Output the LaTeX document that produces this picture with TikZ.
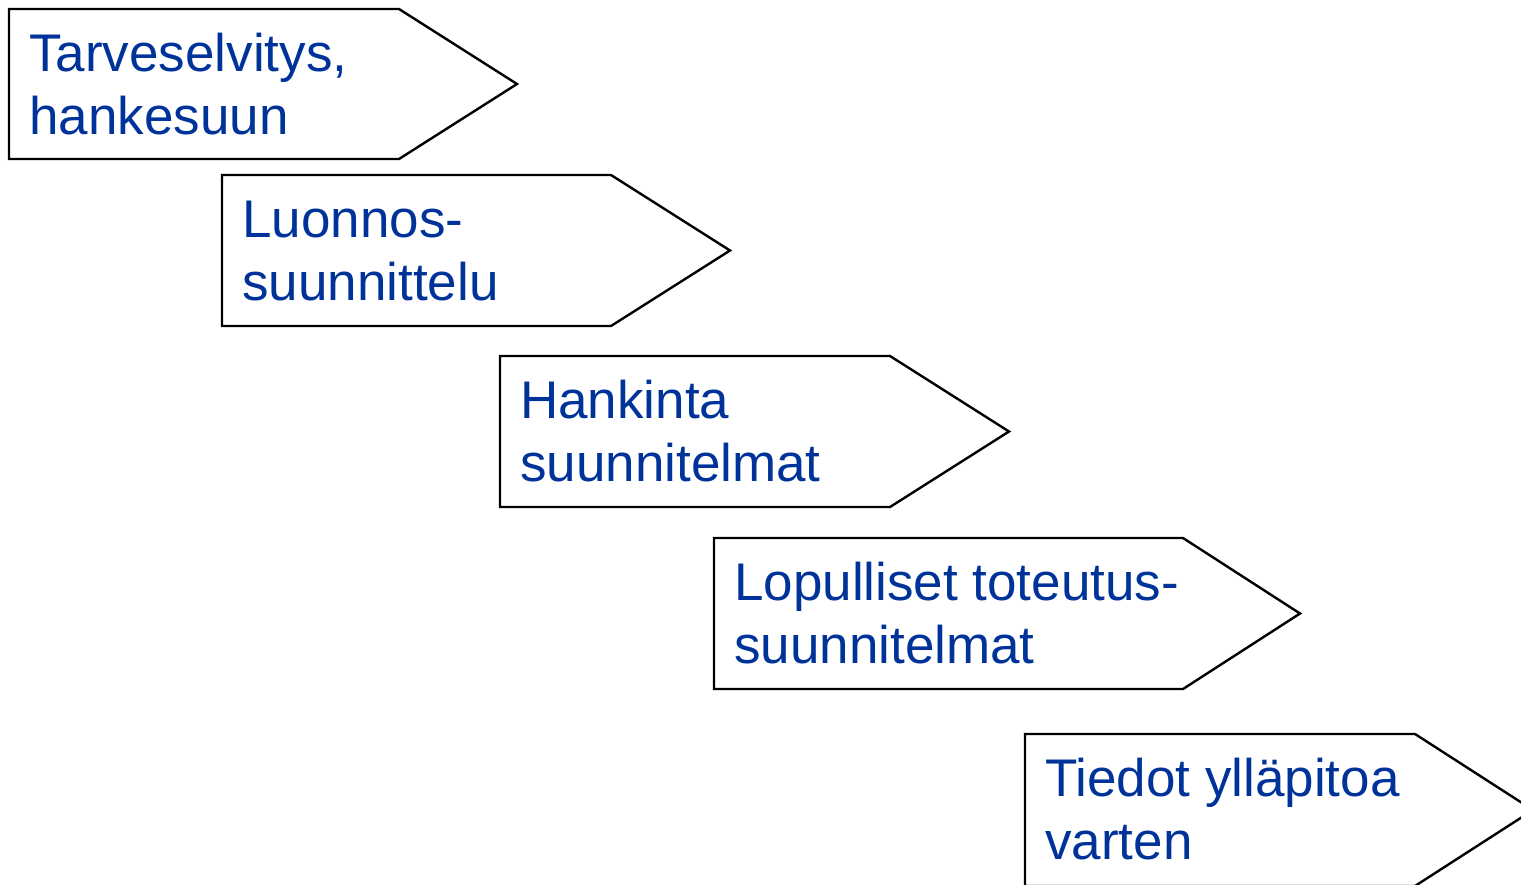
\documentclass[tikz,border=0pt]{standalone}
\usepackage{fontspec}
\setmainfont{Liberation Sans}
\definecolor{txtblue}{HTML}{003399}
\begin{document}
\begin{tikzpicture}[x=1pt,y=-1pt,
  arrowshape/.style={draw=black,line width=2.4pt,fill=white,line join=miter},
  label/.style={anchor=base west,align=left,inner sep=0pt,text=txtblue,
    font=\fontsize{53}{63}\selectfont}]
\clip (0,0) rectangle (1521,884);
\fill[white] (0,0) rectangle (1521,884);
% shape 1
\draw[arrowshape] (9,9) -- (399,9) -- (517,84) -- (399,159) -- (9,159) -- cycle;
\node[label] (t1) at (29,134) {Tarveselvitys,\\hankesuun};
% shape 2
\draw[arrowshape] (222,175) -- (611,175) -- (730,250.5) -- (611,326) -- (222,326) -- cycle;
\node[label] (t2) at (242,300) {Luonnos-\\suunnittelu};
% shape 3
\draw[arrowshape] (500,356) -- (890,356) -- (1009,431.5) -- (890,507) -- (500,507) -- cycle;
\node[label] (t3) at (520,481) {Hankinta\\suunnitelmat};
% shape 4
\draw[arrowshape] (714,538) -- (1183,538) -- (1300,613.5) -- (1183,689) -- (714,689) -- cycle;
\node[label] (t4) at (734,663) {Lopulliset toteutus-\\suunnitelmat};
% shape 5 (cut off by the picture's lower and right edges)
\draw[arrowshape] (1025,734) -- (1415,734) -- (1533,810) -- (1415,886) -- (1025,886) -- cycle;
\node[label] (t5) at (1045,859) {Tiedot ylläpitoa\\varten};
\end{tikzpicture}
\end{document}
